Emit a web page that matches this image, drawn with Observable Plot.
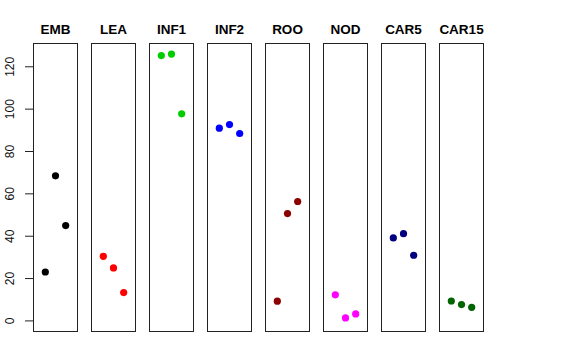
<!DOCTYPE html>
<html>
<head>
<meta charset="utf-8">
<script src="https://cdn.jsdelivr.net/npm/d3@7"></script>
<script src="https://cdn.jsdelivr.net/npm/@observablehq/plot@0.6"></script>
<style>
  html, body { margin: 0; padding: 0; background: #fff; }
</style>
</head>
<body>
<div id="chart"></div>
<script>
const panels = ["EMB", "LEA", "INF1", "INF2", "ROO", "NOD", "CAR5", "CAR15"];
const colors = ["#000000", "#FF0000", "#00CD00", "#0000FF", "#8B0000", "#FF00FF", "#000080", "#006400"];
const positions = [1, 2, 3];
const EMB = [23.1, 68.5, 45.0];
const LEA = [30.5, 25.0, 13.4];
const INF1 = [125.3, 126.0, 97.8];
const INF2 = [91.0, 92.7, 88.5];
const ROO = [9.3, 50.7, 56.4];
const NOD = [12.3, 1.4, 3.3];
const CAR5 = [39.2, 41.2, 31.0];
const CAR15 = [9.4, 7.7, 6.4];
const yTicks = [0, 20, 40, 60, 80, 100, 120];

const series = [EMB, LEA, INF1, INF2, ROO, NOD, CAR5, CAR15];
const data = [];
panels.forEach((p, i) => {
  series[i].forEach((v, j) => data.push({panel: p, pos: positions[j], value: v, color: colors[i]}));
});

const chart = Plot.plot({
  width: 576,
  height: 360,
  marginTop: 43,
  marginBottom: 29,
  marginLeft: 29,
  marginRight: 89,
  style: {fontFamily: "'Liberation Sans', Arial, Helvetica, sans-serif", background: "#fff"},
  fx: {domain: panels, paddingInner: 0.237, paddingOuter: 0, axis: null},
  x: {domain: [-0.16, 4.16], axis: null},
  y: {domain: [-5, 131], axis: null},
  marks: [
    Plot.frame({stroke: "#222", strokeWidth: 1}),
    Plot.axisFx({anchor: "top", tickSize: 0, tickPadding: 10, label: null, fontWeight: "bold", fontSize: 13.5, fill: "#000"}),
    Plot.axisY({ticks: yTicks, tickSize: 8, tickFormat: () => "", label: null, stroke: "#222"}),
    Plot.axisY({ticks: yTicks, tickSize: 0, tickPadding: 0, dx: -20, tickRotate: -90, label: null, fontSize: 12, fill: "#111"}),
    Plot.dot(data, {fx: "panel", x: "pos", y: "value", r: 3.6, fill: "color", stroke: null})
  ]
});
document.getElementById("chart").appendChild(chart);
</script>
</body>
</html>
